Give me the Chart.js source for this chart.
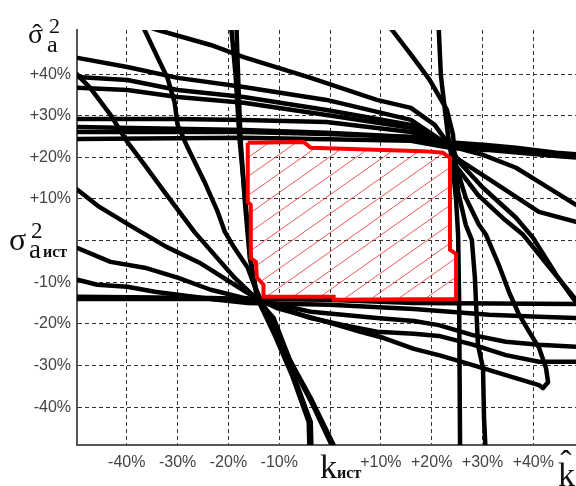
<!DOCTYPE html>
<html>
<head>
<meta charset="utf-8">
<script src="https://cdn.jsdelivr.net/npm/chart.js@4.4.1/dist/chart.umd.min.js"></script>
<style>
  html, body { margin: 0; padding: 0; background: #fff; }
  canvas { display: block; }
</style>
</head>
<body>
<canvas id="regionChart" width="576" height="486"></canvas>
<script>
// tick values, % deviation from the true value
const xTicks = [-40, -30, -20, -10, 0, 10, 20, 30, 40];
const yTicks = [-40, -30, -20, -10, 0, 10, 20, 30, 40];

// curves crossing near (+24%, +23%)  -- [k, sigma^2] in %
const curveB1 = [[-37.5, 52.1], [-33.9, 50.6], [-23.5, 47.0], [-17.0, 44.1], [-3.8, 39.1], [9.2, 33.8], [15.9, 31.9], [20.6, 27.8], [23.6, 22.7], [26.7, 10.3], [29.3, 3.8], [30.7, 1.4], [33.2, -5.8], [35.2, -12.3], [37.2, -17.8], [39.2, -21.9], [41.1, -25.7], [42.5, -30.6], [42.9, -34.0], [41.9, -35.4]];
const curveB2 = [[10.6, 53.0], [12.2, 50.6], [16.3, 44.1], [19.6, 38.6], [23.0, 31.4], [24.2, 25.4], [24.6, 19.4], [25.2, 11.7], [26.7, 3.8], [27.9, 0.2], [28.5, -8.9], [29.1, -25.0], [30.1, -30.6], [30.3, -42.6], [30.7, -52.7]];
const curveB3 = [[21.2, 53.0], [21.4, 50.6], [21.8, 39.8], [22.6, 31.4], [23.2, 25.4], [24.0, 19.4], [24.8, 9.8], [25.2, 1.4], [25.4, -14.2], [25.6, -52.7]];
const curveB4 = [[-53.3, 44.6], [-49.7, 43.9], [-39.9, 41.7], [-30.0, 39.1], [-17.0, 36.9], [-0.7, 33.8], [15.9, 29.0], [23.6, 22.7], [24.8, 19.9], [32.1, 14.1], [41.1, 6.9], [48.4, 4.5], [53.1, 3.1]];
const curveB5 = [[-53.3, 39.6], [-49.7, 39.3], [-39.9, 38.6], [-30.0, 36.2], [-17.0, 34.5], [-0.7, 31.4], [15.9, 27.8], [23.6, 22.7], [30.1, 20.6], [36.6, 17.5], [41.1, 14.1], [48.4, 8.6], [53.1, 5.5]];
const curveB6 = [[-53.3, 36.9], [-49.7, 36.7], [-39.9, 36.2], [-30.0, 34.5], [-17.0, 33.1], [-0.7, 30.2], [15.9, 27.1], [23.6, 22.7], [25.4, 18.9], [30.1, 12.7], [36.6, 5.5], [40.0, 0.6], [44.5, -8.2], [47.8, -13.8], [51.2, -19.1]];
const curveB7 = [[-53.3, 29.2], [-49.7, 29.2], [-30.0, 29.2], [-17.0, 29.0], [-0.7, 28.5], [15.9, 26.1], [23.6, 22.7], [24.6, 18.2], [29.1, 11.0], [34.4, 5.0], [38.0, 1.4], [42.3, -5.1], [48.4, -14.2], [51.2, -18.6]];
const curveB8 = [[-53.3, 27.3], [-49.7, 27.3], [-17.0, 26.6], [-0.7, 25.9], [15.9, 24.9], [23.6, 22.7], [30.7, 22.3], [36.6, 21.8], [44.5, 20.8], [53.1, 20.1]];
const curveB9 = [[-53.3, 26.1], [-49.7, 26.1], [-17.0, 26.1], [-0.7, 25.6], [15.9, 24.9], [22.6, 23.7], [30.7, 23.0], [36.6, 22.3], [44.5, 21.1], [53.1, 20.3]];
const curveB10 = [[-53.3, 24.4], [-49.7, 24.4], [-17.0, 24.7], [15.9, 24.0], [23.6, 22.3], [30.7, 21.8], [44.5, 20.3], [53.1, 19.6]];

// curves crossing near (-15%, -14%)
const curveA1 = [[-51.7, 42.2], [-49.7, 39.8], [-47.2, 36.7], [-43.2, 30.2], [-39.9, 23.7], [-36.5, 18.2], [-32.6, 11.7], [-26.7, 2.1], [-18.8, -8.9], [-14.6, -13.8], [-11.1, -18.6], [-7.9, -28.7], [-3.8, -37.8], [0.7, -49.1], [1.9, -52.7]];
const curveA2 = [[-37.5, 53.0], [-36.5, 50.6], [-33.9, 43.9], [-32.0, 39.1], [-30.6, 33.3], [-30.0, 27.8], [-28.0, 22.3], [-24.7, 14.1], [-22.1, 6.9], [-20.7, 2.1], [-18.8, -1.8], [-16.2, -6.5], [-14.6, -11.8], [-13.1, -15.4], [-10.1, -22.7], [-7.2, -30.6], [-3.4, -39.5], [0.3, -49.1], [1.3, -52.7]];
const curveA3 = [[-18.6, 53.0], [-18.4, 50.6], [-18.0, 36.2], [-17.6, 24.2], [-16.8, 9.8], [-15.8, -4.2], [-14.6, -11.4], [-13.8, -14.2], [-10.5, -22.7], [-7.2, -32.3], [-3.8, -43.6], [-3.6, -52.7]];
const curveA4 = [[-19.6, 53.0], [-19.4, 50.6], [-18.6, 39.8], [-17.8, 24.2], [-16.6, 8.6], [-15.6, -4.6], [-14.6, -12.3], [-14.2, -14.2], [-10.9, -22.7], [-7.5, -32.3], [-4.2, -43.6], [-4.0, -52.7]];
const curveA5 = [[-53.3, 15.1], [-49.7, 12.2], [-45.4, 8.1], [-38.9, 3.3], [-32.2, -1.5], [-25.7, -5.3], [-18.8, -10.6], [-14.6, -13.8], [-10.5, -16.2], [-0.7, -19.5], [6.0, -21.9], [10.6, -23.4], [16.5, -26.0], [21.4, -27.5], [28.1, -29.9], [34.6, -32.3], [41.1, -34.7], [41.9, -35.4]];
const curveA6 = [[-53.3, -0.6], [-49.7, -1.8], [-43.2, -5.1], [-36.5, -6.5], [-30.0, -8.9], [-23.5, -11.8], [-16.8, -13.8], [-14.6, -14.2], [-3.8, -18.6], [2.7, -20.3], [9.2, -21.9], [16.5, -22.4], [21.4, -22.9], [28.1, -25.0], [34.6, -27.5], [41.1, -29.1], [48.4, -29.1], [53.1, -29.1]];
const curveA7 = [[-53.3, -9.2], [-49.7, -9.4], [-45.8, -10.6], [-39.9, -11.1], [-34.5, -12.3], [-30.0, -13.0], [-22.1, -14.2], [-14.6, -14.2], [-3.8, -17.1], [9.2, -18.6], [16.5, -19.3], [21.4, -20.3], [28.1, -22.7], [34.6, -24.3], [41.1, -25.0], [48.4, -25.5], [53.1, -25.8]];
const curveA8 = [[-53.3, -13.5], [-49.7, -13.5], [-23.5, -13.8], [-14.6, -14.0], [-0.7, -14.2], [16.5, -15.0], [48.4, -15.2], [53.1, -15.2]];
const curveA9 = [[-53.3, -14.0], [-49.7, -14.0], [-23.5, -14.0], [-16.2, -15.0], [-0.1, -15.4], [16.5, -16.4], [31.3, -17.8], [41.1, -18.3], [48.4, -18.6], [53.1, -18.6]];

// admissible region (red outline with hatching)
const region = [[-16.2, 23.5], [-5.2, 23.7], [-3.8, 22.3], [18.3, 21.5], [22.2, 21.1], [23.6, 19.9], [23.6, -2.2], [24.8, -3.2], [24.8, -14.0], [0.7, -14.2], [0.7, -13.5], [-13.1, -13.5], [-13.1, -10.6], [-14.4, -8.9], [-14.6, -5.1], [-15.6, -4.2], [-15.6, 8.6], [-16.2, 9.3], [-16.2, 23.5]];

const curves = [curveB1, curveB2, curveB3, curveB4, curveB5, curveB6, curveB7, curveB8, curveB9, curveB10,
  curveA1, curveA2, curveA3, curveA4, curveA5, curveA6, curveA7, curveA8, curveA9];

const toXY = (pts) => pts.map(([x, y]) => ({ x, y }));
const pct = (v) => (v === 0 ? "" : (v > 0 ? "+" : "") + v + "%");

// thin red diagonal hatching
function hatchPattern() {
  const w = 27, h = 19;
  const c = document.createElement("canvas");
  c.width = w;
  c.height = h;
  const g = c.getContext("2d");
  g.strokeStyle = "rgba(235, 60, 60, 0.85)";
  g.lineWidth = 1;
  for (let n = -1; n <= 3; n++) {
    g.beginPath();
    g.moveTo(-w, n * h + h + 9);
    g.lineTo(2 * w, n * h - 2 * h + 9);
    g.stroke();
  }
  return g.createPattern(c, "repeat");
}

// axis names drawn in serif like the original figure
const axisNames = {
  id: "axisNames",
  afterDraw(chart) {
    const { ctx, scales: { x, y } } = chart;
    const x0 = x.getPixelForValue(0);
    const y0 = y.getPixelForValue(0);
    const serif = '"Liberation Serif", "DejaVu Serif", serif';
    ctx.save();
    ctx.fillStyle = "#111";
    ctx.textAlign = "left";
    ctx.textBaseline = "alphabetic";

    // sigma-hat^2_a at the top of the y axis
    ctx.font = `28px ${serif}`;
    ctx.fillText("σ", 28, 43);
    ctx.textAlign = "center";
    ctx.fillText("ˆ", 37, 43);
    ctx.textAlign = "left";
    ctx.font = `22px ${serif}`;
    ctx.fillText("2", 49, 33);
    ctx.font = `24px ${serif}`;
    ctx.fillText("a", 47, 52);

    // sigma^2_a ист at y = 0
    ctx.font = `32px ${serif}`;
    ctx.fillText("σ", 9, y0 + 9);
    ctx.font = `23px ${serif}`;
    ctx.fillText("2", 31, y0 - 3);
    ctx.font = `27px ${serif}`;
    ctx.fillText("a", 29, y0 + 17);
    ctx.font = `bold 16px ${serif}`;
    ctx.fillText("ист", 43, y0 + 16);

    // k ист at x = 0
    ctx.font = `34px ${serif}`;
    ctx.fillText("k", x0 - 10, 478);
    ctx.font = `bold 16px ${serif}`;
    ctx.fillText("ист", x0 + 7, 478);

    // k-hat at the end of the x axis
    ctx.font = `34px ${serif}`;
    ctx.fillText("k", 558, 486);
    ctx.textAlign = "center";
    ctx.fillText("ˆ", 566, 474);
    ctx.restore();
  },
};

const datasets = [
  {
    data: toXY(region),
    showLine: true,
    borderColor: "#ff0000",
    borderWidth: 4,
    backgroundColor: hatchPattern(),
    fill: "shape",
    pointRadius: 0,
    order: 0,
    clip: 0,
  },
  ...curves.map((c) => ({
    data: toXY(c),
    showLine: true,
    borderColor: "#000",
    borderWidth: 4.5,
    borderJoinStyle: "round",
    borderCapStyle: "round",
    pointRadius: 0,
    fill: false,
    order: 1,
    clip: 0,
  })),
];

const tickFont = { family: '"Liberation Sans", Arial, sans-serif', size: 16 };

new Chart(document.getElementById("regionChart"), {
  type: "scatter",
  data: { datasets },
  options: {
    responsive: false,
    animation: false,
    layout: { padding: { top: 30, right: 0, bottom: 0, left: 0 } },
    plugins: { legend: { display: false }, tooltip: { enabled: false } },
    scales: {
      x: {
        type: "linear",
        min: -49.8,
        max: 48.4,
        afterBuildTicks: (s) => { s.ticks = xTicks.map((v) => ({ value: v })); },
        afterFit: (s) => { s.height = 41; },
        grid: { color: "#333", lineWidth: 1, drawTicks: false },
        border: { color: "#555", width: 2, dash: [4, 3] },
        ticks: { color: "#444", font: tickFont, padding: 8, maxRotation: 0, autoSkip: false, callback: pct },
      },
      y: {
        type: "linear",
        min: -49.1,
        max: 50.6,
        afterBuildTicks: (s) => { s.ticks = yTicks.map((v) => ({ value: v })); },
        afterFit: (s) => { s.width = 77; },
        grid: { color: "#333", lineWidth: 1, drawTicks: false },
        border: { color: "#555", width: 2, dash: [4, 3] },
        ticks: { color: "#444", font: tickFont, padding: 6, autoSkip: false, callback: pct },
      },
    },
  },
  plugins: [axisNames],
});
</script>
</body>
</html>
